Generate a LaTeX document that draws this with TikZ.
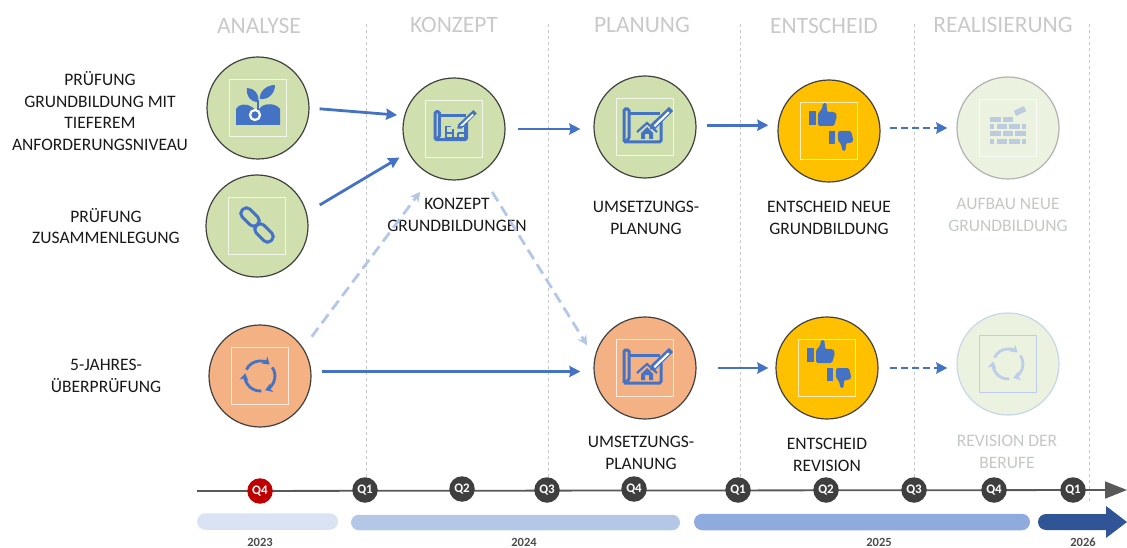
\documentclass[tikz,border=0pt]{standalone}
\usepackage{fontspec}
\setmainfont{Carlito}
\usetikzlibrary{arrows.meta}
\usetikzlibrary{positioning, shapes.misc}
\definecolor{iconblue}{HTML}{4472C4}
\definecolor{fadeblue}{HTML}{BCCBDD}
\definecolor{stepgreen}{HTML}{CFE0AE}
\definecolor{steporange}{HTML}{F4B183}
\definecolor{stepyellow}{HTML}{FFC000}
\definecolor{stepfade}{HTML}{EBF2E0}
\definecolor{headgray}{HTML}{C9C9C9}
\definecolor{fadetext}{HTML}{C4C8C4}
\definecolor{quarter}{HTML}{3F3F3F}
\definecolor{yeardark}{HTML}{2F5597}
\tikzset{
step circle/.style = { circle, line width = 1.2pt, minimum size = 102pt, inner sep = 0pt },
green step/.style = { step circle, draw = black!75, fill = stepgreen },
orange step/.style = { step circle, draw = black!75, fill = steporange },
yellow step/.style = { step circle, draw = black!75, fill = stepyellow },
fade step/.style = { step circle, draw = black!30, fill = stepfade },
icon frame/.style = { rectangle, draw = white, draw opacity = 0.75, line width = 1.1pt, minimum size = 57pt, inner sep = 0pt },
phase/.style = { text = headgray, font = \fontsize{23.5}{26}\selectfont },
caption/.style = { text = black!90, align = center, font = \fontsize{17.5}{21.5}\selectfont },
fade caption/.style = { caption, text = fadetext },
flow/.style = { draw = iconblue, line width = 2.8pt, -{Stealth[length = 11pt, width = 11pt, inset = 1pt]} },
flow dashed/.style = { flow, dash pattern = on 7pt off 4pt },
flow light/.style = { draw = iconblue!40, line width = 2.8pt, dash pattern = on 11pt off 6pt, -{Stealth[length = 10pt, width = 10pt]} },
quarter mark/.style = { circle, fill = quarter, text = white, minimum size = 25.5pt, inner sep = 0pt, font = \bfseries\fontsize{13}{14}\selectfont },
year bar/.style = { rounded rectangle, minimum height = 16.5pt, inner sep = 0pt },
year/.style = { text = black!70, inner sep = 0pt, font = \bfseries\fontsize{12.5}{13}\selectfont }
}
\tikzset{
pics/sprout/.style={
        code = {
        \fill[#1] (-22, 17) -- (-22, 1) .. controls (-20, -4) and (-11, -5) .. (-6, -1) -- (-1, 3) -- (3, -1) .. controls (7, -5) and (18, -5) .. (22, 1) -- (22, 17) -- cycle;
        \draw[white, line width = 2.2pt] (-3, 7) circle[radius = 5pt];
        \draw[#1, line width = 2.4pt] (0, 2) -- (0, -8);
        \fill[#1] (0, -6) .. controls (-8, -6) and (-12, -12) .. (-11, -20) .. controls (-4, -20) and (2, -14) .. cycle;
        \fill[#1] (2, -9) .. controls (1, -16) and (8, -23) .. (17, -23) .. controls (17, -15) and (11, -8) .. cycle;
        }
    },
pics/chain/.style={
        code = {
        \draw[#1, line width = 3pt, rounded corners = 5pt, shift = {(-7, -9)}, rotate = -45] (-10.5, -5.5) rectangle (10.5, 5.5);
        \draw[#1, line width = 3pt, rounded corners = 5pt, shift = {(7, 7)}, rotate = -45] (-10.5, -5.5) rectangle (10.5, 5.5);
        }
    },
pics/blueprint/.style={
        code = {
        \draw[#1, line width = 3pt, rounded corners = 1.5pt] (-21, 15) -- (-21, -18) -- (-16, -18) -- (-16, 12) -- (-21, 15) -- (16, 15) -- (16, -5);
        \draw[#1, line width = 3pt] (-16, -13) -- (15, -13);
        \fill[#1] (6, -3) -- (24, -20) -- (28, -16) -- (10, 2) -- (5, 2) -- cycle;
        \fill[white] (23, -15.5) -- (24.5, -14) -- (10, 0) -- (8.5, -1.5) -- cycle;
        }
    },
pics/house/.style={
        code = {
        \draw[#1, line width = 2.2pt] (-10, 2) -- (0, -7) -- (10, 2);
        \fill[#1] (-6, 3) -- (0, -3) -- (6, 3) -- (6, 9) -- (2, 9) -- (2, 4) -- (-2, 4) -- (-2, 9) -- (-6, 9) -- cycle;
        }
    },
pics/floorplan/.style={
        code = {
        \draw[#1, line width = 1.7pt] (-10, -4) -- (-10, 9) -- (11, 9) -- (11, -4) -- (7, -4) (-10, 3) -- (-2, 3) (-2, -1) -- (-2, 9) (3, 3) -- (11, 3) (3, 3) -- (3, 9) (-10, -4) -- (-4, -4);
        }
    },
pics/thumb up/.style={
        code = {
        \fill[#1] (-4, -7) rectangle (3, 7);
        \fill[#1, rounded corners = 1.5pt] (5, -5) -- (9, -9) -- (10, -15) -- (13.5, -15) -- (14, -6) -- (22, -6) -- (24, -2) -- (21, 8) -- (5, 8) -- cycle;
        }
    },
pics/thumb down/.style={
        code = {
        \fill[#1] (-3, -7) rectangle (3, 6);
        \fill[#1, rounded corners = 1.5pt] (6, -7) -- (19, -7) -- (21.5, 3) -- (19, 5) -- (14, 5) -- (13.5, 13) -- (10.5, 13) -- (9, 6) -- (6, 3) -- cycle;
        }
    },
pics/bricks/.style={
        code = {
        \foreach \xa/\ya/\xb/\yb in {-18/-11/-7/-6, -5/-11/5/-6,
          -18/-4/-14/1, -11/-4/-1/1, 1/-4/12/1, 14/-4/18/1,
          -18/3/-7/8, -5/3/5/8, 7/3/18/8,
          -18/11/-14/16, -11/11/-1/16, 1/11/12/16, 14/11/18/16}
            \fill[#1] (\xa, \ya) rectangle (\xb, \yb);
        \fill[#1, shift = {(12, -17)}, rotate = 25] (-5.5, -2.8) rectangle (5.5, 2.8);
        }
    },
pics/cycle/.style={
        code = {
        \foreach \a in {0, 120, 240}
            \draw[#1, line width = 2.8pt, rotate = \a, -{Stealth[length = 7pt, width = 9pt]}] (155:15pt) arc[start angle = 155, end angle = 50, radius = 15pt];
        }
    }
}
\begin{document}
\begin{tikzpicture}[x = 1pt, y = -1pt]
    \useasboundingbox (0, 0) rectangle (1127, 548);
    % separators
    \foreach \x/\yend in {366/478, 548/478, 740/478, 914/478, 1089/502}
        \draw[black!22, dashed, line width = 0.8pt] (\x, 24) -- (\x, \yend);
    % headers
    \node[phase] (head analyse) at (259, 26) {ANALYSE};
    \node[phase] (head konzept) at (454, 25) {KONZEPT};
    \node[phase] (head planung) at (642, 25) {PLANUNG};
    \node[phase] (head entscheid) at (824, 26) {ENTSCHEID};
    \node[phase] (head real) at (1003, 25) {REALISIERUNG};
    % steps
    \node[green step] (pruefung) at (258, 108) {};
    \node[green step] (fusion) at (257, 226) {};
    \node[orange step] (review) at (260, 376) {};
    \node[green step] (konzept) at (454, 129) {};
    \node[green step] (plan top) at (645, 127) {};
    \node[orange step] (plan low) at (645, 368) {};
    \node[yellow step] (vote top) at (829, 131) {};
    \node[yellow step] (vote low) at (827, 368) {};
    \node[fade step] (aufbau) at (1008, 128) {};
    \node[fade step, draw = iconblue!30] (revision) at (1008, 364) {};
    \foreach \n in {pruefung, fusion, review, konzept, plan top, plan low, vote top, vote low, aufbau}
        \node[icon frame] (frame \n) at (\n) {};
    \node[icon frame, draw = iconblue!35, draw opacity = 1] (frame revision) at (revision) {};
    % icons
    \draw (pruefung) pic{sprout = iconblue};
    \draw (fusion) pic{chain = iconblue};
    \draw (review) pic{cycle = iconblue};
    \draw (konzept) ++(-1, -2) pic[scale = 0.85]{blueprint = iconblue};
    \draw (konzept) ++(1, 1) pic[scale = 0.9]{floorplan = iconblue};
    \draw (plan top) pic{blueprint = iconblue};
    \draw (plan top) ++(2, 3) pic{house = iconblue};
    \draw (plan low) pic{blueprint = iconblue};
    \draw (plan low) ++(2, 3) pic{house = iconblue};
    \draw (vote top) ++(-16, -13) pic{thumb up = iconblue};
    \draw (vote top) ++(3, 7) pic{thumb down = iconblue};
    \draw (vote low) ++(-16, -13) pic{thumb up = iconblue};
    \draw (vote low) ++(3, 7) pic{thumb down = iconblue};
    \draw (aufbau) pic{bricks = fadeblue};
    \draw (revision) pic{cycle = iconblue!35};
    % captions
    \node[caption] (cap pruefung) at (100, 111) {PRÜFUNG\\GRUNDBILDUNG MIT\\TIEFEREM\\ANFORDERUNGSNIVEAU};
    \node[caption] (cap fusion) at (106, 226) {PRÜFUNG\\ZUSAMMENLEGUNG};
    \node[caption] (cap review) at (106, 376) {5-JAHRES-\\ÜBERPRÜFUNG};
    \node[caption] (cap konzept) at (457, 215) {KONZEPT\\GRUNDBILDUNGEN};
    \node[caption] (cap plan top) at (646, 218) {UMSETZUNGS-\\PLANUNG};
    \node[caption] (cap vote top) at (829, 218) {ENTSCHEID NEUE\\GRUNDBILDUNG};
    \node[fade caption] (cap aufbau) at (1008, 215) {AUFBAU NEUE\\GRUNDBILDUNG};
    \node[caption] (cap plan low) at (641, 453) {UMSETZUNGS-\\PLANUNG};
    \node[caption] (cap vote low) at (827, 455) {ENTSCHEID\\REVISION};
    \node[fade caption] (cap revision) at (1007, 452) {REVISION DER\\BERUFE};
    % flows
    \draw[flow, shorten <= 10pt, shorten >= 7pt] (pruefung.east) -- (konzept.165);
    \draw[flow, shorten <= 15pt, shorten >= 10pt] (fusion.15) -- (konzept.207);
    \draw[flow, shorten <= 12pt, shorten >= 13pt] (konzept.east) -- (konzept.east -| plan top.west);
    \draw[flow, shorten <= 10pt, shorten >= 9pt] (plan top.2) -- (plan top.2 -| vote top.west);
    \draw[flow dashed, shorten <= 9pt, shorten >= 9pt] (aufbau.west -| vote top.east) -- (aufbau.west);
    \draw[flow light, shorten <= 14pt, shorten >= 20pt] (review.33) -- (konzept.245);
    \draw[flow light, shorten <= 22pt, shorten >= 14pt] (konzept.-59) -- (plan low.168);
    \draw[flow, shorten <= 11pt, shorten >= 13pt] (review.5) -- (review.5 -| plan low.west);
    \draw[flow, shorten <= 21pt, shorten >= 7pt] (plan low.east) -- (vote low.west);
    \draw[flow dashed, shorten <= 11pt, shorten >= 9pt] (vote low.east) -- (vote low.east -| revision.west);
    % timeline
    \coordinate (line start) at (197, 491);
    \coordinate (line end) at (1127, 490);
    \draw[black!65, line width = 1.8pt, -{Triangle[length = 22pt, width = 17pt]}] (line start) -- (line end);
    \node[quarter mark, fill = red!75!black] (q23d) at (260, 491) {Q4};
    \foreach \q/\x/\y/\lab in {q24a/365/490/Q1, q24b/462/489/Q2, q24c/547/490/Q3, q24d/634/489/Q4,
        q25a/738/490/Q1, q25b/826/490/Q2, q25c/914/490/Q3, q25d/994/490/Q4, q26a/1073/490/Q1}
        \node[quarter mark] (\q) at (\x, \y) {\lab};
    % years
    \node[year bar, fill = iconblue!20, minimum width = 141pt] (bar 2023) at (267.5, 521.5) {};
    \node[year bar, fill = iconblue!40, minimum width = 329pt, minimum height = 15.5pt] (bar 2024) at (515.5, 522.5) {};
    \node[year bar, fill = iconblue!60, minimum width = 336pt] (bar 2025) at (862, 522) {};
    \fill[yeardark] (1046, 514) -- (1106, 514) -- (1106, 506) -- (1127, 522) -- (1106, 538) -- (1106, 530) -- (1046, 530) arc[start angle = 270, end angle = 90, radius = 8pt] -- cycle;
    \node[year] (year 2023) at (260, 542) {2023};
    \node[year] (year 2024) at (524, 542) {2024};
    \node[year] (year 2025) at (879, 542) {2025};
    \node[year] (year 2026) at (1083, 542) {2026};
\end{tikzpicture}
\end{document}
